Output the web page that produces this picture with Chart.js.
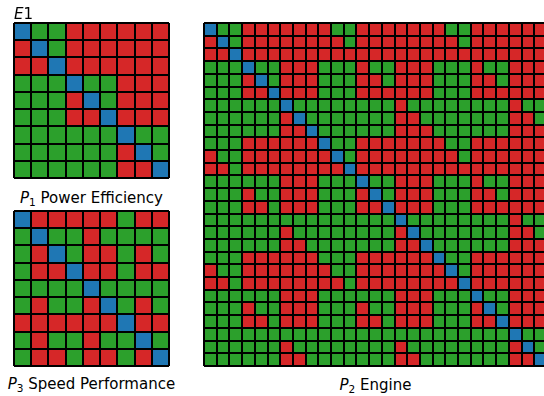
<!DOCTYPE html>
<html>
<head>
<meta charset="utf-8">
<script src="https://cdn.jsdelivr.net/npm/chart.js@4/dist/chart.umd.min.js"></script>
<style>
  html, body { margin: 0; padding: 0; background: #ffffff; }
  body { width: 544px; height: 396px; position: relative; overflow: hidden;
         font-family: "DejaVu Sans", sans-serif; color: #000; }
  canvas { position: absolute; }
  .label { position: absolute; font-size: 15px; line-height: 15px; white-space: nowrap; }
  .label sub { font-size: 10.5px; vertical-align: -3px; line-height: 0; }
  .center { text-align: center; }
</style>
</head>
<body>
<canvas id="e1" width="157" height="157" style="left:13px;top:22px"></canvas>
<canvas id="p3" width="157" height="157" style="left:13px;top:210px"></canvas>
<canvas id="p2" width="345" height="345" style="left:203px;top:22px"></canvas>

<div class="label" style="left:14px;top:7px"><i>E</i>1</div>
<div class="label center" style="left:0px;width:183px;top:191px"><i>P</i><sub>1</sub> Power Efficiency</div>
<div class="label center" style="left:0px;width:183px;top:377px"><i>P</i><sub>3</sub> Speed Performance</div>
<div class="label center" style="left:204px;width:343px;top:378px"><i>P</i><sub>2</sub> Engine</div>

<script>
// Pairwise outcome matrices: B = self (diagonal), G = row beats column, R = row loses to column
const e1Rows = [
  "BGGRRRRRR",
  "RBGRRRRRR",
  "RRBRRRRRR",
  "GGGBGGRRR",
  "GGGRBGRRR",
  "GGGRRBRRR",
  "GGGGGGBGG",
  "GGGGGGRBG",
  "GGGGGGRRB"
];

const p3Rows = [
  "BRRRRRGRR",
  "GBGGRGGGG",
  "GRBGRRGRG",
  "GRRBRRGRR",
  "GGGGBGGGG",
  "GRGGRBGRG",
  "RRRRRRBRR",
  "GRGGRGGBG",
  "GRRGRRGRB"
];

const p2Rows = [
  "BGGRRRRRRRGGR" + "RRRRRRGGRRRRRR",
  "RBGRRRRRRRRGR" + "RRRRRRRGRRRRRR",
  "RRBRRRRRRRRRR" + "RRRRRRRRRRRRRR",
  "GGGBGGRRRGGGR" + "GGRRRGGGRGGRRR",
  "GGGRBGRRRGGGR" + "RGRRRGGGRRGRRR",
  "GGGRRBRRRGGGR" + "RRRRRGGGRRRRRR",
  "GGGGGGBGGGGGG" + "GGRGGGGGGGGRGG",
  "GGGGGGRBGGGGG" + "GGRRGGGGGGGRRG",
  "GGGGGGRRBGGGG" + "GGRRRGGGGGGRRR",
  "GGGRRRRRRBGGR" + "RRRRRRGGRRRRRR",
  "RGGRRRRRRRBGR" + "RRRRRRRGRRRRRR",
  "RRGRRRRRRRRBR" + "RRRRRRRRRRRRRR",
  "GGGGGGRRRGGGB" + "GGRRRGGGRGGRRR",
  "GGGRGGRRRGGGR" + "BGRRRGGGRRGRRR",
  "GGGRRGRRRGGGR" + "RBRRRGGGRRRRRR",
  "GGGGGGGGGGGGG" + "GGBGGGGGGGGRGG",
  "GGGGGGRGGGGGG" + "GGRBGGGGGGGRRG",
  "GGGGGGRRGGGGG" + "GGRRBGGGGGGRRR",
  "GGGRRRRRRGGGR" + "RRRRRBGGRRRRRR",
  "RGGRRRRRRRGGR" + "RRRRRRBGRRRRRR",
  "RRGRRRRRRRRGR" + "RRRRRRRBRRRRRR",
  "GGGGGGRRRGGGG" + "GGRRRGGGBGGRRR",
  "GGGRGGRRRGGGR" + "GGRRRGGGRBGRRR",
  "GGGRRGRRRGGGR" + "RGRRRGGGRRBRRR",
  "GGGGGGGGGGGGG" + "GGGGGGGGGGGBGG",
  "GGGGGGRGGGGGG" + "GGRGGGGGGGGRBG",
  "GGGGGGRRGGGGG" + "GGRRGGGGGGGRRB"
];

const cellColors = { B: "#1f77b4", G: "#2ca02c", R: "#d62728" };

// Each matrix row is one floating-bar dataset spanning [row, row + 1] on a reversed y axis;
// every column is a category on x, so each bar segment becomes one cell.
// The black cell edges are the axes' own grid lines, drawn above the bars.
function drawMatrix(canvasId, rows) {
  const n = rows.length;
  const columns = rows[0].split("").map((_, c) => String(c));
  const datasets = rows.map((row, r) => ({
    data: columns.map(() => [r, r + 1]),
    backgroundColor: row.split("").map(k => cellColors[k]),
    borderWidth: 0,
    grouped: false,
    barPercentage: 1,
    categoryPercentage: 1
  }));

  const cellGrid = { color: "#000000", lineWidth: 2, z: 1, drawTicks: false, tickLength: 0 };

  new Chart(document.getElementById(canvasId), {
    type: "bar",
    data: { labels: columns, datasets },
    options: {
      responsive: false,
      animation: false,
      devicePixelRatio: 1,
      layout: { padding: 1 },
      plugins: { legend: { display: false }, tooltip: { enabled: false } },
      scales: {
        x: {
          type: "category", offset: true,
          grid: Object.assign({ offset: true }, cellGrid),
          ticks: { display: false },
          border: { display: false }
        },
        y: {
          type: "linear", min: 0, max: n, reverse: true,
          grid: cellGrid,
          ticks: { display: false, stepSize: 1 },
          border: { display: false }
        }
      }
    }
  });
}

drawMatrix("e1", e1Rows);
drawMatrix("p3", p3Rows);
drawMatrix("p2", p2Rows);
</script>
</body>
</html>
